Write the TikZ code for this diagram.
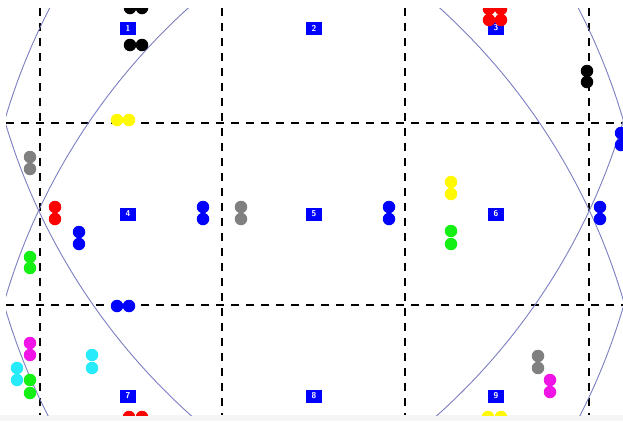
\documentclass[tikz,border=0pt]{standalone}
\usepackage{tikz}
\definecolor{rangecol}{RGB}{122,126,192}
\definecolor{dotgreen}{RGB}{20,240,20}
\definecolor{dotcyan}{RGB}{40,235,250}
\definecolor{dotmagenta}{RGB}{240,20,230}
\definecolor{dotyellow}{RGB}{255,250,0}

\begin{document}
\begin{tikzpicture}[
  x=1pt, y=-1pt,
  cell/.style={fill=blue, text=white, font=\sffamily\bfseries\fontsize{8.5}{8.5}\selectfont,
    minimum width=16pt, minimum height=13pt, inner sep=0pt},
  dot/.style={circle, inner sep=0pt, minimum size=12.5pt},
  gridline/.style={dash pattern=on 8pt off 7pt, line width=2pt},
  rangearc/.style={draw=rangecol, line width=0.9pt}
]
\useasboundingbox (0,0) rectangle (623,421);
\fill[gray!8] (0,415) rectangle (623,421);

\begin{scope}
\clip (6,8) rectangle (623,415);

% cell borders
\draw[gridline] (40,8) -- (40,415);
\draw[gridline] (222,8) -- (222,415);
\draw[gridline] (405,8) -- (405,415);
\draw[gridline] (589,8) -- (589,415);
\draw[gridline] (6,123) -- (623,123);
\draw[gridline] (6,305) -- (623,305);

% ranges
\draw[rangearc] (616,-59) circle (637);
\draw[rangearc] (616,127) circle (637);
\draw[rangearc] (616,300) circle (637);
\draw[rangearc] (616,480) circle (637);
\draw[rangearc] (12,-59) circle (637);
\draw[rangearc] (12,127) circle (637);
\draw[rangearc] (12,300) circle (637);
\draw[rangearc] (12,480) circle (637);

% cells
\node[cell] (c1) at (128,28) {1};
\node[cell] (c2) at (314,28) {2};
\node[cell] (c3) at (496,28) {3};
\node[cell] (c4) at (128,214) {4};
\node[cell] (c5) at (314,214) {5};
\node[cell] (c6) at (496,214) {6};
\node[cell] (c7) at (128,396) {7};
\node[cell] (c8) at (314,396) {8};
\node[cell] (c9) at (496,396) {9};

% nodes
\node[dot, fill=black] (k1a) at (130,8) {};
\node[dot, fill=black] (k1b) at (142,8) {};
\node[dot, fill=black] (k2a) at (130,45) {};
\node[dot, fill=black] (k2b) at (142,45) {};
\node[dot, fill=dotyellow] (y1a) at (117,120) {};
\node[dot, fill=dotyellow] (y1b) at (129,120) {};
\node[dot, fill=red] (r1a) at (489,9) {};
\node[dot, fill=red] (r1b) at (501,9) {};
\node[dot, fill=red] (r2a) at (489,20) {};
\node[dot, fill=red] (r2b) at (501,20) {};
\node[dot, fill=black] (k3a) at (587,71) {};
\node[dot, fill=black] (k3b) at (587,82) {};
\node[dot, fill=gray] (g1a) at (30,157) {};
\node[dot, fill=gray] (g1b) at (30,169) {};
\node[dot, fill=red] (r3a) at (55,207) {};
\node[dot, fill=red] (r3b) at (55,219) {};
\node[dot, fill=blue] (b1a) at (79,232) {};
\node[dot, fill=blue] (b1b) at (79,244) {};
\node[dot, fill=dotgreen] (n1a) at (30,257) {};
\node[dot, fill=dotgreen] (n1b) at (30,268) {};
\node[dot, fill=blue] (b2a) at (203,207) {};
\node[dot, fill=blue] (b2b) at (203,219) {};
\node[dot, fill=gray] (g2a) at (241,207) {};
\node[dot, fill=gray] (g2b) at (241,219) {};
\node[dot, fill=blue] (b3a) at (389,207) {};
\node[dot, fill=blue] (b3b) at (389,219) {};
\node[dot, fill=dotyellow] (y2a) at (451,182) {};
\node[dot, fill=dotyellow] (y2b) at (451,194) {};
\node[dot, fill=dotgreen] (n2a) at (451,231) {};
\node[dot, fill=dotgreen] (n2b) at (451,244) {};
\node[dot, fill=blue] (b4a) at (600,207) {};
\node[dot, fill=blue] (b4b) at (600,219) {};
\node[dot, fill=blue] (b5a) at (621,133) {};
\node[dot, fill=blue] (b5b) at (621,145) {};
\node[dot, fill=blue] (b6a) at (117,306) {};
\node[dot, fill=blue] (b6b) at (129,306) {};
\node[dot, fill=dotmagenta] (m1a) at (30,343) {};
\node[dot, fill=dotmagenta] (m1b) at (30,355) {};
\node[dot, fill=dotcyan] (t1a) at (17,368) {};
\node[dot, fill=dotcyan] (t1b) at (17,380) {};
\node[dot, fill=dotgreen] (n3a) at (30,380) {};
\node[dot, fill=dotgreen] (n3b) at (30,393) {};
\node[dot, fill=dotcyan] (t2a) at (92,355) {};
\node[dot, fill=dotcyan] (t2b) at (92,368) {};
\node[dot, fill=red] (r4a) at (129,417) {};
\node[dot, fill=red] (r4b) at (142,417) {};
\node[dot, fill=gray] (g3a) at (538,356) {};
\node[dot, fill=gray] (g3b) at (538,368) {};
\node[dot, fill=dotmagenta] (m2a) at (550,380) {};
\node[dot, fill=dotmagenta] (m2b) at (550,392) {};
\node[dot, fill=dotyellow] (y3a) at (488,417) {};
\node[dot, fill=dotyellow] (y3b) at (501,417) {};
\end{scope}
\end{tikzpicture}
\end{document}
